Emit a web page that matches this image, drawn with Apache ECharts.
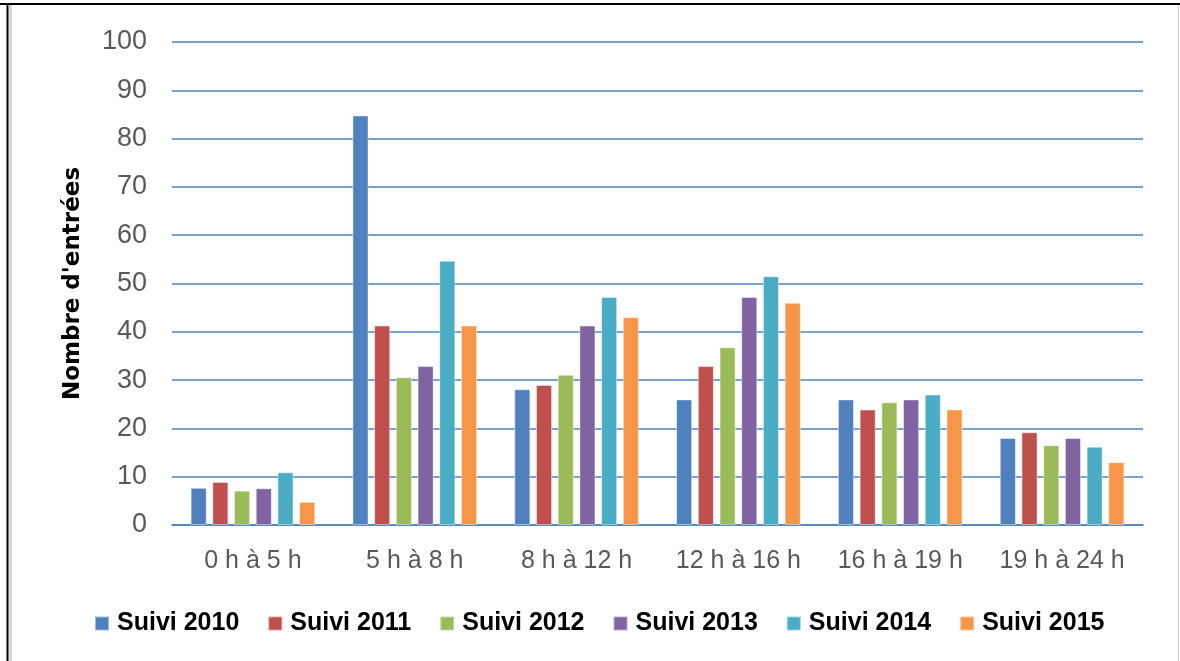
<!DOCTYPE html>
<html>
<head>
<meta charset="utf-8">
<script src="https://cdn.jsdelivr.net/npm/echarts@6/dist/echarts.min.js"></script>
<style>
html,body{margin:0;padding:0;background:#fff;}
#c{width:1180px;height:661px;}
</style>
</head>
<body>
<div id="c"></div>
<script>
const categories = ['0 h à 5 h', '5 h à 8 h', '8 h à 12 h', '12 h à 16 h', '16 h à 19 h', '19 h à 24 h'];
const seriesNames = ['Suivi 2010', 'Suivi 2011', 'Suivi 2012', 'Suivi 2013', 'Suivi 2014', 'Suivi 2015'];
const suivi2010 = [7.7, 84.8, 28.1, 26.0, 26.0, 18.0];
const suivi2011 = [8.9, 41.3, 29.0, 32.9, 23.9, 19.2];
const suivi2012 = [7.1, 30.6, 31.1, 36.8, 25.4, 16.5];
const suivi2013 = [7.6, 32.9, 41.3, 47.2, 26.0, 18.0];
const suivi2014 = [10.9, 54.7, 47.2, 51.5, 27.0, 16.2];
const suivi2015 = [4.8, 41.3, 43.0, 46.0, 23.9, 13.0];
const yAxisName = "Nombre d'entrées";
const colors = ['#4F81BD', '#C0504D', '#9BBB59', '#8064A2', '#4BACC6', '#F79646'];
const allData = [suivi2010, suivi2011, suivi2012, suivi2013, suivi2014, suivi2015];

const chart = echarts.init(document.getElementById('c'), null, {renderer: 'canvas'});
chart.setOption({
  animation: false,
  color: colors,
  grid: {left: 172, right: 37, top: 42, bottom: 136},
  legend: {
    data: seriesNames,
    top: 606,
    left: 89,
    itemWidth: 14,
    itemHeight: 14,
    itemGap: 28,
    icon: 'rect',
    textStyle: {fontFamily: 'Liberation Sans', fontWeight: 'bold', fontSize: 25, color: '#000', padding: [0, 0, 0, 3]}
  },
  xAxis: {
    type: 'category',
    data: categories,
    axisLine: {lineStyle: {color: '#4F81BD', width: 1.5}},
    axisTick: {show: false},
    axisLabel: {interval: 0, fontFamily: 'Liberation Sans', fontSize: 25, color: '#595959', margin: 24}
  },
  yAxis: {
    type: 'value',
    min: 0, max: 100, interval: 10,
    name: yAxisName,
    nameLocation: 'middle',
    nameGap: 87,
    nameTextStyle: {fontFamily: 'DejaVu Sans', fontWeight: 'bold', fontSize: 23, color: '#000'},
    axisLine: {show: false},
    axisTick: {show: false},
    splitLine: {lineStyle: {color: '#4F81BD', width: 1.5}},
    axisLabel: {fontFamily: 'Liberation Sans', fontSize: 27, color: '#595959', margin: 25}
  },
  series: seriesNames.map((n, i) => ({
    name: n,
    type: 'bar',
    data: allData[i],
    barGap: '35%',
    barCategoryGap: '23%',
    itemStyle: {color: colors[i], borderColor: 'rgba(255,255,255,0.45)', borderWidth: 1}
  })),
  graphic: [
    {type: 'line', shape: {x1: 0, y1: 4, x2: 1180, y2: 4}, style: {stroke: '#000', lineWidth: 2}},
    {type: 'line', shape: {x1: 7.5, y1: 4, x2: 7.5, y2: 661}, style: {stroke: '#000', lineWidth: 2}},
    {type: 'line', shape: {x1: 10.5, y1: 5, x2: 10.5, y2: 661}, style: {stroke: '#d9d9d9', lineWidth: 3}},
    {type: 'line', shape: {x1: 1178.5, y1: 5, x2: 1178.5, y2: 661}, style: {stroke: '#d0d0d0', lineWidth: 1}}
  ]
});
</script>
</body>
</html>
